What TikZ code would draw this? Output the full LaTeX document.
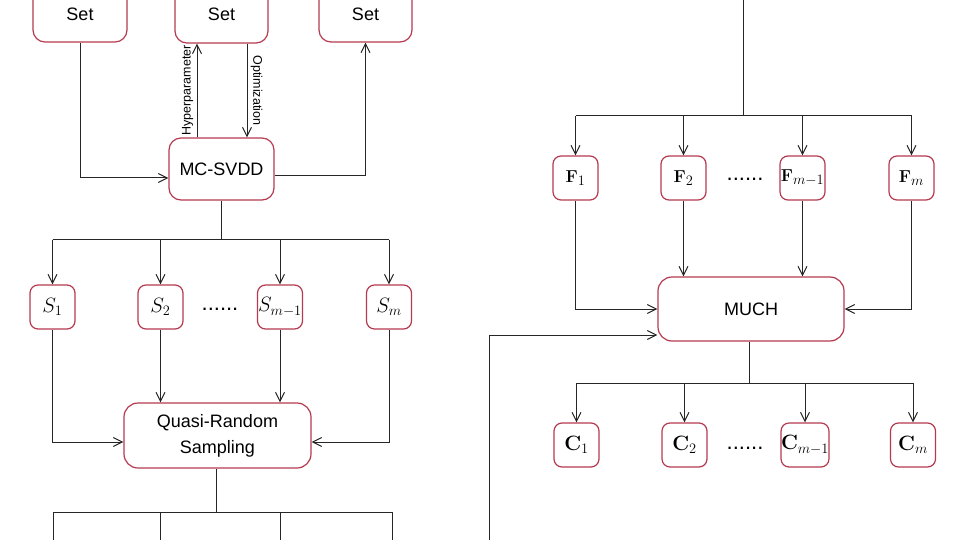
\documentclass[tikz,border=0pt]{standalone}
\usepackage[no-math]{fontspec}
\setmainfont{Liberation Sans}
\usetikzlibrary{arrows.meta,calc}
\definecolor{boxred}{HTML}{B5394F}
\begin{document}
\begin{tikzpicture}[x=1pt,y=-1pt,
  box/.style={draw=boxred,line width=1.2pt,fill=white,rounded corners=12pt,inner sep=0pt,font=\fontsize{18}{26}\selectfont,align=center},
  sbox/.style={draw=boxred,line width=1.2pt,fill=white,rounded corners=8pt,inner sep=0pt,minimum width=45pt,minimum height=44pt},
  sfont/.style={font=\fontsize{22}{24}\selectfont},
  ffont/.style={font=\fontsize{19}{22}\selectfont},
  cfont/.style={font=\fontsize{21}{24}\selectfont},
  conn/.style={line width=1pt,draw=black!85},
  arr/.style={conn,-{Straight Barb[length=9pt,width=9pt,line width=1pt]}},
  lbl/.style={font=\fontsize{12.5}{14}\selectfont},
  dotsl/.style={font=\fontsize{22}{24}\selectfont,anchor=base}]
\clip (0,0) rectangle (960,540);
\useasboundingbox (0,0) rectangle (960,540);

% ---------- left column ----------
\node[box,minimum width=94pt,minimum height=56pt] (set1) at (80,14) {Set};
\node[box,minimum width=93pt,minimum height=58pt] (set2) at (221.5,14) {Set};
\node[box,minimum width=93pt,minimum height=56pt] (set3) at (365.5,14) {Set};
\node[box,minimum width=105pt,minimum height=62pt] (mc) at (221.5,169) {MC-SVDD};

\draw[arr] (set1.south) |- (mc.west|-{0,178}) coordinate (mcin);
\draw[arr] ($(mc.north)+(-24.5,0)$) coordinate (hy) -- (hy|-set2.south)
  node[lbl,midway,rotate=90,anchor=south] {Hyperparameter};
\draw[arr] ($(set2.south)+(25.5,0)$) coordinate (op) -- (op|-mc.north)
  node[lbl,midway,rotate=-90,anchor=south] {Optimization};
\draw[arr] (mc.east|-{0,176}) coordinate (mcout) -| (set3.south);

\node[sbox,sfont] (s1) at (52.5,307) {$S_1$};
\node[sbox,sfont] (s2) at (160.5,307) {$S_2$};
\node[sbox,sfont] (s3) at (280,307) {$S_{m-1}$};
\node[sbox,sfont] (s4) at (389,307) {$S_m$};
\node[dotsl] (sd) at (220,310) {......};

\coordinate (mcb) at ($(mc.south)+(0,39)$);
\draw[conn] (mc.south) -- (mcb);
\draw[conn] (s1.north|-mcb) -- (s4.north|-mcb);
\foreach \n in {s1,s2,s3,s4} \draw[arr] (\n.north|-mcb) -- (\n.north);

\node[box,minimum width=187pt,minimum height=65pt,rounded corners=14pt] (qr) at (217.5,435.5) {Quasi-Random\\Sampling};
\draw[arr] (s1.south) |- (qr.west|-{0,442});
\draw[arr] (s2.south) -- (s2.south|-qr.north);
\draw[arr] (s3.south) -- (s3.south|-qr.north);
\draw[arr] (s4.south) |- (qr.east|-{0,442});

\coordinate (qrb) at (216,512);
\draw[conn] (qr.south-|qrb) -- (qrb);
\coordinate (b1) at (53,512); \coordinate (b2) at (160,512);
\coordinate (b3) at (280,512); \coordinate (b4) at (392,512);
\coordinate (e1) at (53,545); \coordinate (e2) at (160,545);
\coordinate (e3) at (280,545); \coordinate (e4) at (392,545);
\draw[conn] (b1) -- (b4);
\draw[conn] (b1) -- (e1); \draw[conn] (b2) -- (e2);
\draw[conn] (b3) -- (e3); \draw[conn] (b4) -- (e4);

% ---------- right column ----------
\coordinate (top) at (743,-5);
\coordinate (tj) at (743,116);
\draw[conn] (top) -- (tj);

\node[sbox,ffont] (f1) at (575.5,178) {$\mathbf{F}_1$};
\node[sbox,ffont] (f2) at (683.5,178) {$\mathbf{F}_2$};
\node[sbox,ffont] (f3) at (802.5,178) {$\mathbf{F}_{m-1}$};
\node[sbox,ffont] (f4) at (911.5,178) {$\mathbf{F}_m$};
\node[dotsl] (fd) at (745,181) {......};
\draw[conn] (f1.north|-tj) -- (f4.north|-tj);
\foreach \n in {f1,f2,f3,f4} \draw[arr] (\n.north|-tj) -- (\n.north);

\node[box,minimum width=186pt,minimum height=64pt,rounded corners=14pt] (mu) at (751,309) {MUCH};
\draw[arr] (f1.south) |- (mu.west);
\draw[arr] (f2.south) -- (f2.south|-mu.north);
\draw[arr] (f3.south) -- (f3.south|-mu.north);
\draw[arr] (f4.south) |- (mu.east);

\coordinate (lb) at (489,545);
\draw[arr] (lb) |- (mu.west|-{0,335});

\coordinate (mub) at (749,383);
\draw[conn] (mu.south-|mub) -- (mub);
\node[sbox,cfont] (c1) at (576.5,445) {$\mathbf{C}_1$};
\node[sbox,cfont] (c2) at (684.5,445) {$\mathbf{C}_2$};
\node[sbox,cfont,minimum width=46pt] (c3) at (805,445) {$\mathbf{C}_{m-1}$};
\node[sbox,cfont] (c4) at (913,445) {$\mathbf{C}_m$};
\node[dotsl] (cd) at (745,449) {......};
\draw[conn] (c1.north|-mub) -- (c4.north|-mub);
\foreach \n in {c1,c2,c3,c4} \draw[arr] (\n.north|-mub) -- (\n.north);
\end{tikzpicture}
\end{document}
